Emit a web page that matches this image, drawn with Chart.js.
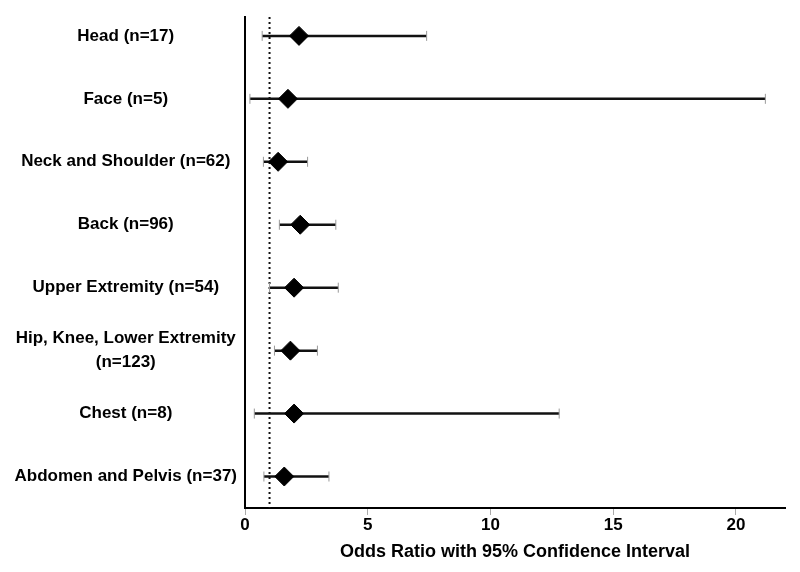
<!DOCTYPE html>
<html>
<head>
<meta charset="utf-8">
<script src="https://cdn.jsdelivr.net/npm/chart.js@4"></script>
<style>
  body { margin: 0; background: #fff; }
  #wrap { width: 800px; height: 572px; }
</style>
</head>
<body>
<div id="wrap"><canvas id="forest"></canvas></div>
<script>
// rows of the forest plot, top to bottom
const regiones = [
  "Head (n=17)",
  "Face (n=5)",
  "Neck and Shoulder (n=62)",
  "Back (n=96)",
  "Upper Extremity (n=54)",
  ["Hip, Knee, Lower Extremity", "(n=123)"],
  "Chest (n=8)",
  "Abdomen and Pelvis (n=37)"
];
const oddsRatio = [2.2, 1.75, 1.35, 2.25, 2.0, 1.85, 2.0, 1.6];
const icBajo    = [0.7, 0.2, 0.75, 1.4, 1.0, 1.2, 0.38, 0.77];
const icAlto    = [7.4, 21.2, 2.55, 3.7, 3.8, 2.95, 12.8, 3.42];
const xTicks    = [0, 5, 10, 15, 20];
const lineaRef  = 1;

const fuente = "'Liberation Sans', Arial, Helvetica, sans-serif";

// una linea por intervalo, con remates verticales
const intervalos = regiones.map((_, i) => ({
  type: "line",
  data: [{ x: icBajo[i], y: i }, { x: icAlto[i], y: i }],
  borderColor: "#111",
  borderWidth: 2.5,
  pointStyle: "line",
  rotation: 90,
  pointRadius: 5,
  pointBorderWidth: 1,
  pointBorderColor: "#999",
  order: 2
}));

new Chart(document.getElementById("forest"), {
  type: "scatter",
  data: {
    datasets: [
      {
        type: "line",
        data: [{ x: lineaRef, y: -0.3 }, { x: lineaRef, y: 7.5 }],
        borderColor: "#111",
        borderWidth: 2,
        borderDash: [2, 3],
        pointRadius: 0,
        order: 3
      },
      ...intervalos,
      {
        data: oddsRatio.map((v, i) => ({ x: v, y: i })),
        pointStyle: "rectRot",
        pointRadius: 9.5,
        backgroundColor: "#000",
        borderColor: "#000",
        borderWidth: 1,
        order: 1
      }
    ]
  },
  options: {
    responsive: true,
    maintainAspectRatio: false,
    animation: false,
    layout: { padding: { top: 17, right: 15, left: 0, bottom: 9 } },
    plugins: { legend: { display: false }, tooltip: { enabled: false } },
    scales: {
      x: {
        type: "linear",
        min: 0,
        max: 22,
        afterBuildTicks: s => { s.ticks = xTicks.map(v => ({ value: v })); },
        border: { display: true, color: "#000", width: 2 },
        grid: { drawOnChartArea: false, drawTicks: true, tickLength: 7, color: "#aaa" },
        ticks: { color: "#000", padding: 0, font: { family: fuente, size: 17, weight: "bold" } },
        title: {
          display: true,
          text: "Odds Ratio with 95% Confidence Interval",
          color: "#000",
          padding: { top: 6, bottom: 0 },
          font: { family: fuente, size: 18, weight: "bold" }
        }
      },
      y: {
        type: "linear",
        reverse: true,
        min: -0.3,
        max: 7.5,
        afterBuildTicks: s => { s.ticks = regiones.map((_, i) => ({ value: i })); },
        afterFit: s => { s.width = 245; },
        border: { display: true, color: "#000", width: 2 },
        grid: { display: false },
        ticks: {
          crossAlign: "center",
          color: "#000",
          padding: 0,
          font: { family: fuente, size: 17, weight: "bold", lineHeight: 1.4 },
          callback: v => regiones[v]
        }
      }
    }
  }
});
</script>
</body>
</html>
